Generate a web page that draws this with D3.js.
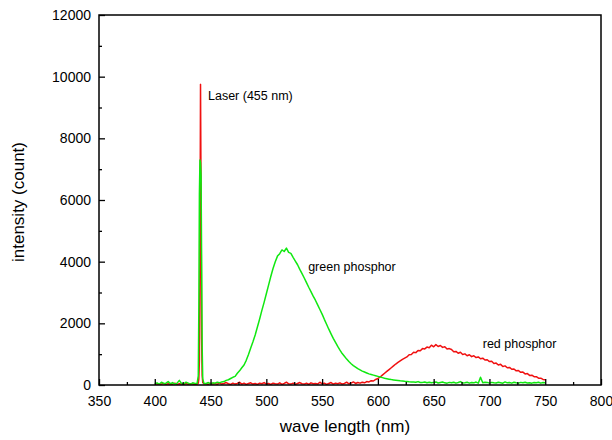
<!DOCTYPE html>
<html>
<head>
<meta charset="utf-8">
<script src="https://cdn.jsdelivr.net/npm/d3@7"></script>
<style>
  html, body { margin: 0; padding: 0; background: #fff; }
  svg { display: block; }
  text { font-family: "Liberation Sans", Arial, sans-serif; fill: #000; }
</style>
</head>
<body>
<svg id="chart" width="612" height="440"></svg>
<script>
// ---- data ----
const wavelength = [
  400,402,404,406,408,410,412,414,416,418,
  420,422,424,426,428,430,432,434,436,
  438,439,439.5,440,440.5,441,441.5,442,442.5,443,444,
  446,448,450,452,454,456,458,460,462,464,
  466,468,470,472,474,476,478,480,482,484,
  486,488,490,492,494,496,498,500,502,504,
  506,508,510,512,514,516,518,520,522,524,
  526,528,530,532,534,536,538,540,542,544,
  546,548,550,552,554,556,558,560,562,564,
  566,568,570,572,574,576,578,580,582,584,
  586,588,590,592,594,596,598,600,602,604,
  606,608,610,612,614,616,618,620,622,624,
  626,628,630,632,634,636,638,640,642,644,
  646,648,650,652,654,656,658,660,662,664,
  666,668,670,672,674,676,678,680,682,684,
  686,688,690,692,694,696,698,700,702,704,
  706,708,710,712,714,716,718,720,722,724,
  726,728,730,732,734,736,738,740,742,744,
  746,748,750
];

const greenPhosphor = [
  40,70,30,90,50,60,110,40,80,30,
  60,150,50,40,90,60,30,70,50,
  60,300,2500,6200,7300,7200,6800,4000,1200,200,60,
  50,80,40,70,60,90,70,100,110,150,
  170,210,250,280,380,460,560,650,800,990,
  1200,1400,1620,1880,2140,2420,2680,2960,3240,3520,
  3780,4000,4180,4260,4380,4330,4440,4300,4270,4140,
  4020,3900,3750,3610,3470,3320,3170,3030,2880,2750,
  2600,2450,2300,2130,1970,1810,1660,1510,1380,1250,
  1130,1020,930,840,760,690,630,580,530,490,
  450,420,390,360,340,320,300,280,260,240,
  220,205,190,175,165,155,145,135,130,120,
  115,105,100,95,90,110,80,85,100,75,
  90,70,85,100,65,80,95,70,60,85,
  70,90,60,80,110,65,75,90,60,80,
  70,95,60,250,70,90,85,60,85,70,
  65,90,75,60,100,70,80,60,90,70,
  60,85,70,90,65,75,60,80,70,90,
  60,80,70
];

const redPhosphor = [
  20,40,10,30,50,20,40,10,30,60,
  20,40,30,10,50,20,40,30,20,
  30,60,200,800,4000,9750,6000,1500,300,80,40,
  40,20,60,30,50,20,70,30,50,80,
  40,20,60,30,50,90,30,60,20,50,
  70,30,50,20,60,40,80,30,50,20,
  60,40,30,70,20,50,90,40,30,60,
  20,50,80,40,30,60,20,70,40,50,
  30,90,40,60,20,50,80,30,60,40,
  70,30,50,90,40,60,100,50,80,60,
  90,70,110,100,140,130,180,210,260,320,
  380,440,500,560,620,680,730,780,830,870,
  910,980,990,1060,1050,1120,1110,1180,1170,1230,
  1210,1290,1240,1310,1250,1280,1220,1240,1170,1180,
  1150,1080,1090,1030,1060,990,1010,950,980,920,
  950,890,910,850,870,810,820,760,770,700,
  710,650,670,600,620,560,570,510,520,460,
  470,410,420,360,370,310,320,270,270,220,
  220,180,170
];

const xMajorTicks = [350,400,450,500,550,600,650,700,750,800];
const xMinorTicks = [375,425,475,525,575,625,675,725,775];
const yMajorTicks = [0,2000,4000,6000,8000,10000,12000];
const yMinorTicks = [1000,3000,5000,7000,9000,11000];

const annotations = [
  { text: "Laser (455 nm)", x: 447.7, y: 9230 },
  { text: "green phosphor", x: 537.5, y: 3690 },
  { text: "red phosphor", x: 694, y: 1200 }
];

// ---- layout ----
const svg = d3.select("#chart");
const mLeft = 99, mRight = 601, mTop = 15, mBottom = 385;

const x = d3.scaleLinear().domain([350, 800]).range([mLeft, mRight]);
const y = d3.scaleLinear().domain([0, 12000]).range([mBottom, mTop]);

const redData = wavelength.map((w, i) => [w, redPhosphor[i]]);
const greenData = wavelength.map((w, i) => [w, greenPhosphor[i]]);

const line = d3.line().x(d => x(d[0])).y(d => y(d[1]));

svg.append("clipPath").attr("id", "plotclip")
  .append("rect").attr("x", mLeft).attr("y", mTop)
  .attr("width", mRight - mLeft).attr("height", mBottom - mTop);

const plot = svg.append("g").attr("clip-path", "url(#plotclip)");

plot.append("path").datum(redData)
  .attr("d", line).attr("fill", "none")
  .attr("stroke", "#f01010").attr("stroke-width", 1.5)
  .attr("stroke-linejoin", "round");

plot.append("path").datum(greenData)
  .attr("d", line).attr("fill", "none")
  .attr("stroke", "#10e810").attr("stroke-width", 1.5)
  .attr("stroke-linejoin", "round");

// axes
const xAxis = d3.axisBottom(x).tickValues(xMajorTicks).tickFormat(d3.format("d"))
  .tickSizeInner(-6).tickSizeOuter(0).tickPadding(11);
const gx = svg.append("g").attr("transform", `translate(0,${mBottom})`).call(xAxis);
gx.select(".domain").remove();
gx.selectAll(".tick line").attr("stroke", "#000").attr("stroke-width", 1.3);
gx.selectAll("text").attr("font-size", 14).attr("font-family", "Liberation Sans, Arial, sans-serif");

const xMinor = d3.axisBottom(x).tickValues(xMinorTicks).tickFormat("")
  .tickSizeInner(-3).tickSizeOuter(0);
const gxm = svg.append("g").attr("transform", `translate(0,${mBottom})`).call(xMinor);
gxm.select(".domain").remove();
gxm.selectAll(".tick line").attr("stroke", "#000").attr("stroke-width", 1.3);

const yAxis = d3.axisLeft(y).tickValues(yMajorTicks).tickFormat(d3.format("d"))
  .tickSizeInner(-6).tickSizeOuter(0).tickPadding(8);
const gy = svg.append("g").attr("transform", `translate(${mLeft},0)`).call(yAxis);
gy.select(".domain").remove();
gy.selectAll(".tick line").attr("stroke", "#000").attr("stroke-width", 1.3);
gy.selectAll("text").attr("font-size", 14).attr("font-family", "Liberation Sans, Arial, sans-serif");

const yMinor = d3.axisLeft(y).tickValues(yMinorTicks).tickFormat("")
  .tickSizeInner(-3).tickSizeOuter(0);
const gym = svg.append("g").attr("transform", `translate(${mLeft},0)`).call(yMinor);
gym.select(".domain").remove();
gym.selectAll(".tick line").attr("stroke", "#000").attr("stroke-width", 1.3);

// frame
svg.append("rect")
  .attr("x", mLeft).attr("y", mTop)
  .attr("width", mRight - mLeft).attr("height", mBottom - mTop)
  .attr("fill", "none").attr("stroke", "#000").attr("stroke-width", 1.5);

// annotations
svg.selectAll("text.note").data(annotations).enter().append("text")
  .attr("class", "note")
  .attr("x", d => x(d.x)).attr("y", d => y(d.y))
  .attr("font-size", 12.5)
  .text(d => d.text);

// axis titles
svg.append("text")
  .attr("x", 345).attr("y", 432)
  .attr("text-anchor", "middle")
  .attr("font-size", 17)
  .text("wave length (nm)");

svg.append("text")
  .attr("transform", "translate(24,202) rotate(-90)")
  .attr("text-anchor", "middle")
  .attr("font-size", 17)
  .text("intensity (count)");
</script>
</body>
</html>
